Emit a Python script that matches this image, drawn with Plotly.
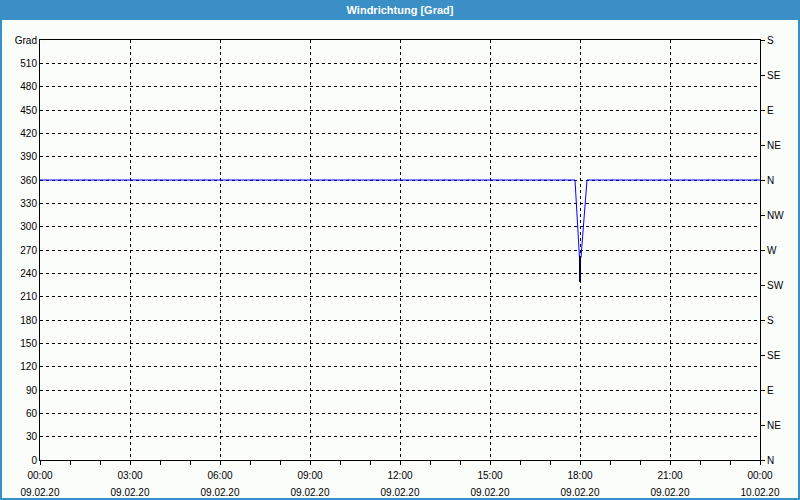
import plotly.graph_objects as go

# ---- data ----
times = ["2020-02-09 00:00", "2020-02-09 17:50", "2020-02-09 17:59",
         "2020-02-09 18:02", "2020-02-09 18:14", "2020-02-10 00:00"]
direction = [360, 360, 260, 260, 360, 360]

spike_times = ["2020-02-09 18:00", "2020-02-09 18:00"]
spike_values = [262, 229]

left_tickvals = list(range(0, 541, 30))
left_ticktext = [str(v) for v in range(0, 511, 30)] + ["Grad"]

compass_vals = list(range(0, 541, 45))
compass_text = ["N", "NE", "E", "SE", "S", "SW", "W", "NW", "N", "NE", "E", "SE", "S"]

x_start, x_end = "2020-02-09 00:00", "2020-02-10 00:00"
title = "Windrichtung [Grad]"

# ---- figure ----
W, H = 800, 500
ML, MR, MT, MB = 40, 40, 40, 40
PW, PH = W - ML - MR, H - MT - MB
FONT = "Liberation Sans"
BLUE_FRAME = "#3b8fc7"

fig = go.Figure()
fig.add_trace(go.Scatter(x=times, y=direction, mode="lines",
                         line=dict(color="#0000ff", width=1),
                         hoverinfo="skip", showlegend=False))
fig.add_trace(go.Scatter(x=spike_times, y=spike_values, mode="lines",
                         line=dict(color="#000033", width=2),
                         hoverinfo="skip", showlegend=False))
# helper invisible traces so the secondary axes render
fig.add_trace(go.Scatter(x=[x_start], y=[0], xaxis="x2", yaxis="y",
                         mode="markers", marker=dict(opacity=0),
                         hoverinfo="skip", showlegend=False))
fig.add_trace(go.Scatter(x=[x_start], y=[0], xaxis="x", yaxis="y2",
                         mode="markers", marker=dict(opacity=0),
                         hoverinfo="skip", showlegend=False))

tickfont = dict(family=FONT, size=10, color="#000000")

fig.update_layout(
    width=W, height=H,
    margin=dict(l=ML, r=MR, t=MT, b=MB, autoexpand=False),
    paper_bgcolor="#fbfdfb",
    plot_bgcolor="#fbfdfb",
    title=dict(text=title, x=0.5, xanchor="center", xref="paper",
               y=1 - 10 / H, yref="container", yanchor="middle",
               font=dict(family=FONT, size=11, color="white", weight="bold")),
    xaxis=dict(
        type="date", range=[x_start, x_end], automargin=False,
        dtick=3 * 3600000, tick0=x_start, tickformat="%H:%M",
        ticks="outside", ticklen=4, tickcolor="black", tickwidth=1,
        minor=dict(dtick=3600000, ticks="outside", ticklen=4,
                   tickcolor="black", showgrid=False),
        showgrid=True, gridcolor="black", gridwidth=1, griddash="3px,3px",
        showline=True, linecolor="black", linewidth=1, mirror=True,
        zeroline=False, tickfont=tickfont, fixedrange=True,
        ticklabelstandoff=2,
    ),
    xaxis2=dict(
        type="date", range=[x_start, x_end], overlaying="x", side="bottom",
        anchor="y", dtick=3 * 3600000, tick0=x_start, tickformat="%d.%m.%y",
        ticks="", showgrid=False, showline=False, zeroline=False,
        ticklabelstandoff=25, tickfont=tickfont, automargin=False,
    ),
    yaxis=dict(
        range=[0, 540], tickvals=left_tickvals, ticktext=left_ticktext,
        ticks="", showgrid=True, gridcolor="black", gridwidth=1,
        griddash="3px,3px", showline=True, linecolor="black", linewidth=1,
        mirror=True, zeroline=False, tickfont=tickfont, automargin=False,
    ),
    yaxis2=dict(
        range=[0, 540], overlaying="y", side="right", anchor="x",
        tickvals=compass_vals, ticktext=compass_text,
        ticks="outside", ticklen=4, tickcolor="black",
        showgrid=False, showline=True, linecolor="black", zeroline=False,
        tickfont=tickfont, automargin=False,
    ),
)

# window frame: title bar and border
def px_x(p):
    return (p - ML) / PW

def px_y(p):
    return (H - MB - p) / PH

fig.add_shape(type="rect", xref="paper", yref="paper",
              x0=px_x(0), x1=px_x(W), y0=px_y(20), y1=px_y(0),
              fillcolor=BLUE_FRAME, line=dict(width=0), layer="below")
fig.add_shape(type="rect", xref="paper", yref="paper",
              x0=px_x(0), x1=px_x(2), y0=px_y(H), y1=px_y(0),
              fillcolor=BLUE_FRAME, line=dict(width=0), layer="below")
fig.add_shape(type="rect", xref="paper", yref="paper",
              x0=px_x(W - 2), x1=px_x(W), y0=px_y(H), y1=px_y(0),
              fillcolor=BLUE_FRAME, line=dict(width=0), layer="below")
fig.add_shape(type="rect", xref="paper", yref="paper",
              x0=px_x(0), x1=px_x(W), y0=px_y(H), y1=px_y(H - 2),
              fillcolor=BLUE_FRAME, line=dict(width=0), layer="below")

fig.write_html("out.html",
               config={"displayModeBar": False, "staticPlot": True},
               post_script="document.body.style.margin='0';"
                           "document.body.style.overflow='hidden';")
